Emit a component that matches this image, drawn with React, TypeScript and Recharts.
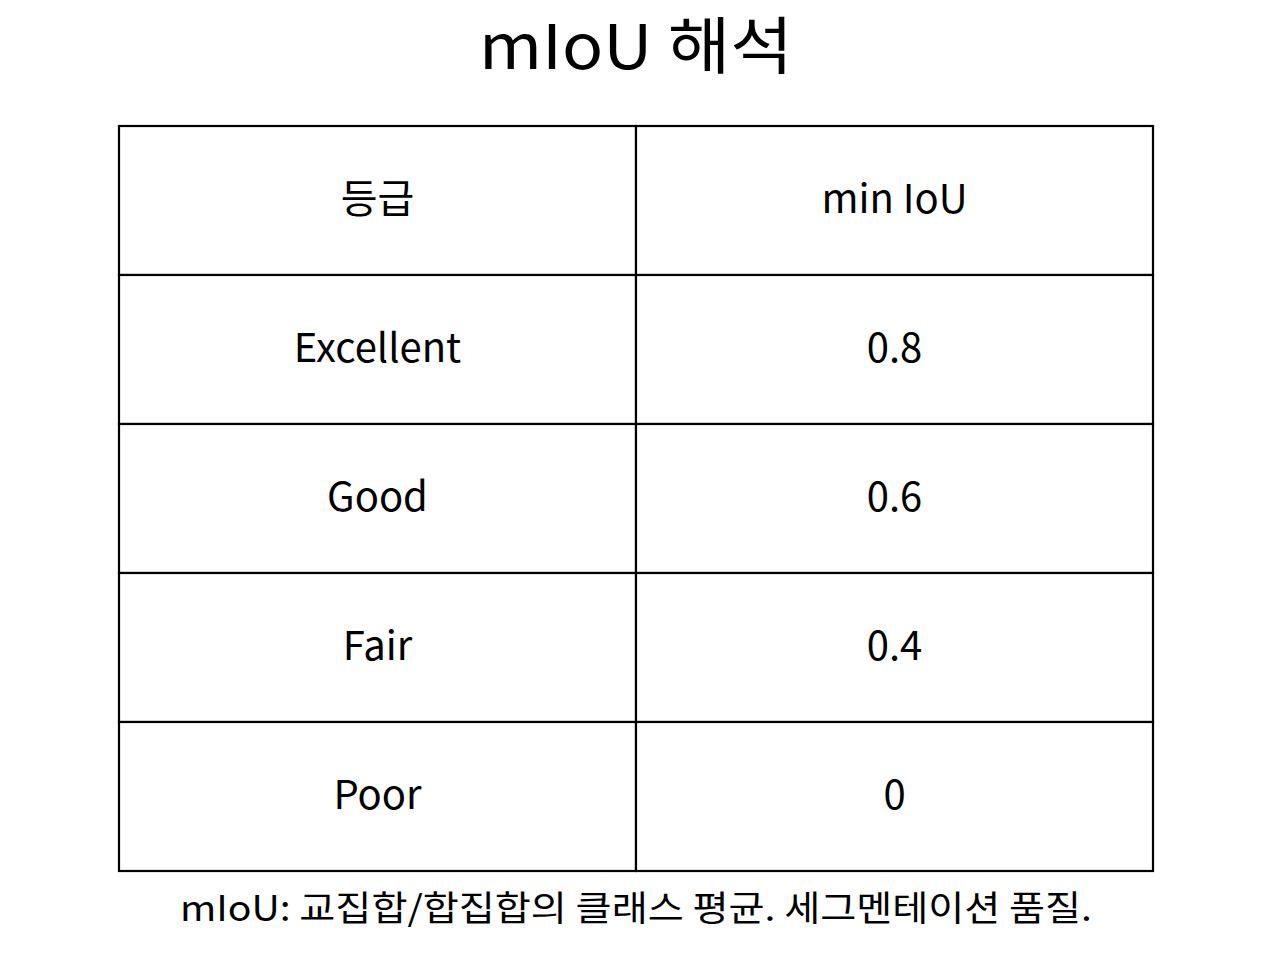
import { ScatterChart, Scatter, XAxis, YAxis, Customized } from "recharts";

const columns = ["grade", "minIoU"];
const rows = ["r0", "r1", "r2", "r3", "r4"];
const gradeLabels = ["등급", "Excellent", "Good", "Fair", "Poor"];
const minIoULabels = ["min IoU", "0.8", "0.6", "0.4", "0"];

const cells = rows.flatMap((r, i) => [
  { col: columns[0], row: r, text: gradeLabels[i] },
  { col: columns[1], row: r, text: minIoULabels[i] },
]);

const W = 1272;
const H = 965;
const margin = { top: 126, right: 119, bottom: 94, left: 119 };
const FONT = "'Noto Sans CJK KR', 'Noto Sans', sans-serif";

function CellShape(props: any) {
  const { cx, cy, payload } = props;
  const w = (W - margin.left - margin.right) / columns.length;
  const h = (H - margin.top - margin.bottom) / rows.length;
  return (
    <g>
      <rect x={cx - w / 2} y={cy - h / 2} width={w} height={h} fill="#fff" stroke="#000" strokeWidth={2.2} />
      <text x={cx} y={cy - 5} textAnchor="middle" dominantBaseline="central" fontSize={40} fontFamily={FONT} fill="#000">
        {payload.text}
      </text>
    </g>
  );
}

function Titles() {
  return (
    <g fontFamily={FONT} fill="#000">
      <text x={W / 2} y={42} textAnchor="middle" dominantBaseline="central" fontSize={62}
        textLength={314} lengthAdjust="spacingAndGlyphs">mIoU 해석</text>
      <text x={636} y={905} textAnchor="middle" dominantBaseline="central" fontSize={35}
        textLength={912} lengthAdjust="spacingAndGlyphs">
        mIoU: 교집합/합집합의 클래스 평균. 세그멘테이션 품질.
      </text>
    </g>
  );
}

export default function App() {
  return (
    <div style={{ position: "absolute", left: 0, top: 0, background: "#fff" }}>
      <ScatterChart width={W} height={H} margin={margin}>
        <XAxis type="category" dataKey="col" allowDuplicatedCategory={false} domain={columns} hide />
        <YAxis type="category" dataKey="row" allowDuplicatedCategory={false} domain={rows} reversed hide />
        <Scatter data={cells} shape={<CellShape />} isAnimationActive={false} />
        <Customized component={<Titles />} />
      </ScatterChart>
    </div>
  );
}
